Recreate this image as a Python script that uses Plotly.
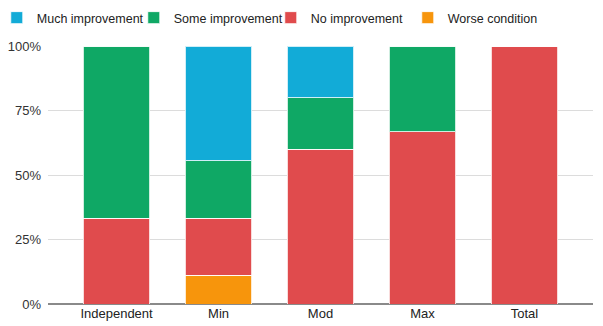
import plotly.graph_objects as go

categories = ["Independent", "Min", "Mod", "Max", "Total"]
series_names = ["Much improvement", "Some improvement", "No improvement", "Worse condition"]
much_improvement = [0, 44.4, 20.0, 0, 0]
some_improvement = [66.7, 22.2, 20.0, 33.3, 0]
no_improvement = [33.3, 22.2, 60.0, 66.7, 100.0]
worse_condition = [0, 11.1, 0, 0, 0]
colors = ["#12abd7", "#0fa865", "#e04b4d", "#f7950c"]
y_ticks = [0, 25, 50, 75, 100]
y_tick_labels = ["0%", "25%", "50%", "75%", "100%"]

fig = go.Figure()
stack = [
    (series_names[3], worse_condition, colors[3]),
    (series_names[2], no_improvement, colors[2]),
    (series_names[1], some_improvement, colors[1]),
    (series_names[0], much_improvement, colors[0]),
]
for name, vals, col in stack:
    fig.add_trace(go.Bar(
        x=categories, y=vals, name=name,
        marker=dict(color=col, line=dict(color="rgba(255,255,255,0.8)", width=1)),
        width=0.65,
    ))

fig.update_layout(
    barmode="stack",
    width=603, height=326,
    margin=dict(l=48, r=10, t=46, b=22, autoexpand=False),
    plot_bgcolor="white", paper_bgcolor="white",
    font=dict(family="Liberation Sans, Arial, sans-serif", size=13, color="#222"),
    legend=dict(orientation="h", x=-0.094, xanchor="left",
                y=1.1085, yanchor="middle",
                traceorder="reversed", font=dict(size=12.5, color="#222"),
                itemwidth=30, entrywidth=92, entrywidthmode="pixels"),
)
fig.update_xaxes(range=[-0.672, 4.672], showgrid=False, ticks="", showline=False,
                 tickfont=dict(size=13))
fig.update_yaxes(range=[0, 100], tickvals=y_ticks, ticktext=y_tick_labels,
                 showgrid=True, gridcolor="#dcdcdc", gridwidth=1,
                 zeroline=True, zerolinecolor="#8a8a8a", zerolinewidth=2,
                 showline=False, ticks="", ticklabelstandoff=6,
                 tickfont=dict(size=13, color="#333"))

fig.write_html("out.html")
